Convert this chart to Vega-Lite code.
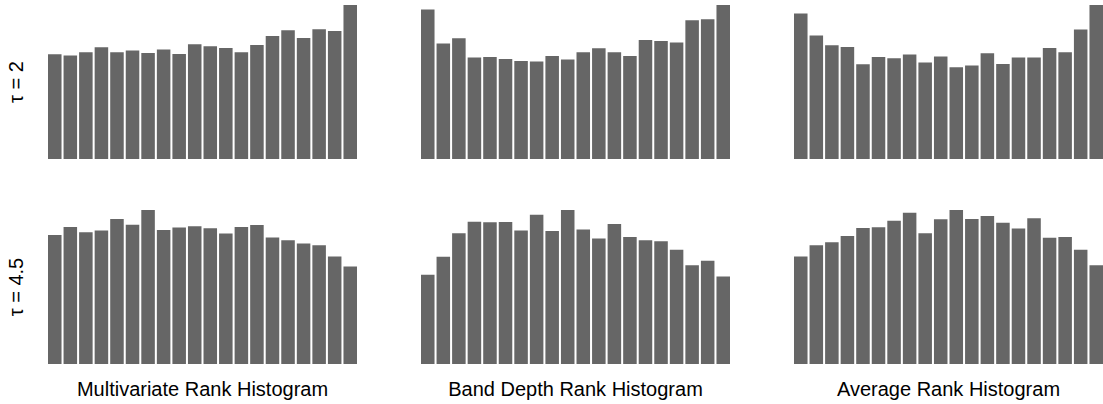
{
  "$schema": "https://vega.github.io/schema/vega-lite/v6.json",
  "padding": {"left": 6, "top": 5, "right": 0, "bottom": 0},
  "datasets": {
    "hist": [
      {"method": "Multivariate Rank Histogram", "tau": "τ = 2", "bin": 1, "freq": 104.7},
      {"method": "Multivariate Rank Histogram", "tau": "τ = 2", "bin": 2, "freq": 103.4},
      {"method": "Multivariate Rank Histogram", "tau": "τ = 2", "bin": 3, "freq": 106.7},
      {"method": "Multivariate Rank Histogram", "tau": "τ = 2", "bin": 4, "freq": 111.7},
      {"method": "Multivariate Rank Histogram", "tau": "τ = 2", "bin": 5, "freq": 106.7},
      {"method": "Multivariate Rank Histogram", "tau": "τ = 2", "bin": 6, "freq": 108.4},
      {"method": "Multivariate Rank Histogram", "tau": "τ = 2", "bin": 7, "freq": 106.0},
      {"method": "Multivariate Rank Histogram", "tau": "τ = 2", "bin": 8, "freq": 109.4},
      {"method": "Multivariate Rank Histogram", "tau": "τ = 2", "bin": 9, "freq": 105.0},
      {"method": "Multivariate Rank Histogram", "tau": "τ = 2", "bin": 10, "freq": 114.7},
      {"method": "Multivariate Rank Histogram", "tau": "τ = 2", "bin": 11, "freq": 112.7},
      {"method": "Multivariate Rank Histogram", "tau": "τ = 2", "bin": 12, "freq": 111.0},
      {"method": "Multivariate Rank Histogram", "tau": "τ = 2", "bin": 13, "freq": 106.7},
      {"method": "Multivariate Rank Histogram", "tau": "τ = 2", "bin": 14, "freq": 114.0},
      {"method": "Multivariate Rank Histogram", "tau": "τ = 2", "bin": 15, "freq": 123.0},
      {"method": "Multivariate Rank Histogram", "tau": "τ = 2", "bin": 16, "freq": 128.7},
      {"method": "Multivariate Rank Histogram", "tau": "τ = 2", "bin": 17, "freq": 121.0},
      {"method": "Multivariate Rank Histogram", "tau": "τ = 2", "bin": 18, "freq": 129.7},
      {"method": "Multivariate Rank Histogram", "tau": "τ = 2", "bin": 19, "freq": 128.0},
      {"method": "Multivariate Rank Histogram", "tau": "τ = 2", "bin": 20, "freq": 154.0},
      {"method": "Band Depth Rank Histogram", "tau": "τ = 2", "bin": 1, "freq": 149.4},
      {"method": "Band Depth Rank Histogram", "tau": "τ = 2", "bin": 2, "freq": 115.4},
      {"method": "Band Depth Rank Histogram", "tau": "τ = 2", "bin": 3, "freq": 120.7},
      {"method": "Band Depth Rank Histogram", "tau": "τ = 2", "bin": 4, "freq": 101.4},
      {"method": "Band Depth Rank Histogram", "tau": "τ = 2", "bin": 5, "freq": 102.0},
      {"method": "Band Depth Rank Histogram", "tau": "τ = 2", "bin": 6, "freq": 100.0},
      {"method": "Band Depth Rank Histogram", "tau": "τ = 2", "bin": 7, "freq": 98.0},
      {"method": "Band Depth Rank Histogram", "tau": "τ = 2", "bin": 8, "freq": 97.4},
      {"method": "Band Depth Rank Histogram", "tau": "τ = 2", "bin": 9, "freq": 103.0},
      {"method": "Band Depth Rank Histogram", "tau": "τ = 2", "bin": 10, "freq": 99.4},
      {"method": "Band Depth Rank Histogram", "tau": "τ = 2", "bin": 11, "freq": 106.7},
      {"method": "Band Depth Rank Histogram", "tau": "τ = 2", "bin": 12, "freq": 110.7},
      {"method": "Band Depth Rank Histogram", "tau": "τ = 2", "bin": 13, "freq": 106.7},
      {"method": "Band Depth Rank Histogram", "tau": "τ = 2", "bin": 14, "freq": 103.0},
      {"method": "Band Depth Rank Histogram", "tau": "τ = 2", "bin": 15, "freq": 119.0},
      {"method": "Band Depth Rank Histogram", "tau": "τ = 2", "bin": 16, "freq": 118.0},
      {"method": "Band Depth Rank Histogram", "tau": "τ = 2", "bin": 17, "freq": 116.4},
      {"method": "Band Depth Rank Histogram", "tau": "τ = 2", "bin": 18, "freq": 138.7},
      {"method": "Band Depth Rank Histogram", "tau": "τ = 2", "bin": 19, "freq": 139.7},
      {"method": "Band Depth Rank Histogram", "tau": "τ = 2", "bin": 20, "freq": 154.0},
      {"method": "Average Rank Histogram", "tau": "τ = 2", "bin": 1, "freq": 145.4},
      {"method": "Average Rank Histogram", "tau": "τ = 2", "bin": 2, "freq": 123.4},
      {"method": "Average Rank Histogram", "tau": "τ = 2", "bin": 3, "freq": 113.7},
      {"method": "Average Rank Histogram", "tau": "τ = 2", "bin": 4, "freq": 112.0},
      {"method": "Average Rank Histogram", "tau": "τ = 2", "bin": 5, "freq": 94.7},
      {"method": "Average Rank Histogram", "tau": "τ = 2", "bin": 6, "freq": 102.0},
      {"method": "Average Rank Histogram", "tau": "τ = 2", "bin": 7, "freq": 100.7},
      {"method": "Average Rank Histogram", "tau": "τ = 2", "bin": 8, "freq": 104.4},
      {"method": "Average Rank Histogram", "tau": "τ = 2", "bin": 9, "freq": 96.4},
      {"method": "Average Rank Histogram", "tau": "τ = 2", "bin": 10, "freq": 102.4},
      {"method": "Average Rank Histogram", "tau": "τ = 2", "bin": 11, "freq": 91.7},
      {"method": "Average Rank Histogram", "tau": "τ = 2", "bin": 12, "freq": 93.4},
      {"method": "Average Rank Histogram", "tau": "τ = 2", "bin": 13, "freq": 105.7},
      {"method": "Average Rank Histogram", "tau": "τ = 2", "bin": 14, "freq": 95.0},
      {"method": "Average Rank Histogram", "tau": "τ = 2", "bin": 15, "freq": 101.4},
      {"method": "Average Rank Histogram", "tau": "τ = 2", "bin": 16, "freq": 101.4},
      {"method": "Average Rank Histogram", "tau": "τ = 2", "bin": 17, "freq": 111.0},
      {"method": "Average Rank Histogram", "tau": "τ = 2", "bin": 18, "freq": 106.7},
      {"method": "Average Rank Histogram", "tau": "τ = 2", "bin": 19, "freq": 129.4},
      {"method": "Average Rank Histogram", "tau": "τ = 2", "bin": 20, "freq": 154.0},
      {"method": "Multivariate Rank Histogram", "tau": "τ = 4.5", "bin": 1, "freq": 129.7},
      {"method": "Multivariate Rank Histogram", "tau": "τ = 4.5", "bin": 2, "freq": 137.7},
      {"method": "Multivariate Rank Histogram", "tau": "τ = 4.5", "bin": 3, "freq": 132.3},
      {"method": "Multivariate Rank Histogram", "tau": "τ = 4.5", "bin": 4, "freq": 134.0},
      {"method": "Multivariate Rank Histogram", "tau": "τ = 4.5", "bin": 5, "freq": 145.7},
      {"method": "Multivariate Rank Histogram", "tau": "τ = 4.5", "bin": 6, "freq": 140.0},
      {"method": "Multivariate Rank Histogram", "tau": "τ = 4.5", "bin": 7, "freq": 154.7},
      {"method": "Multivariate Rank Histogram", "tau": "τ = 4.5", "bin": 8, "freq": 134.7},
      {"method": "Multivariate Rank Histogram", "tau": "τ = 4.5", "bin": 9, "freq": 137.0},
      {"method": "Multivariate Rank Histogram", "tau": "τ = 4.5", "bin": 10, "freq": 138.3},
      {"method": "Multivariate Rank Histogram", "tau": "τ = 4.5", "bin": 11, "freq": 136.3},
      {"method": "Multivariate Rank Histogram", "tau": "τ = 4.5", "bin": 12, "freq": 131.0},
      {"method": "Multivariate Rank Histogram", "tau": "τ = 4.5", "bin": 13, "freq": 137.7},
      {"method": "Multivariate Rank Histogram", "tau": "τ = 4.5", "bin": 14, "freq": 139.7},
      {"method": "Multivariate Rank Histogram", "tau": "τ = 4.5", "bin": 15, "freq": 127.0},
      {"method": "Multivariate Rank Histogram", "tau": "τ = 4.5", "bin": 16, "freq": 124.3},
      {"method": "Multivariate Rank Histogram", "tau": "τ = 4.5", "bin": 17, "freq": 121.0},
      {"method": "Multivariate Rank Histogram", "tau": "τ = 4.5", "bin": 18, "freq": 119.3},
      {"method": "Multivariate Rank Histogram", "tau": "τ = 4.5", "bin": 19, "freq": 108.0},
      {"method": "Multivariate Rank Histogram", "tau": "τ = 4.5", "bin": 20, "freq": 98.0},
      {"method": "Band Depth Rank Histogram", "tau": "τ = 4.5", "bin": 1, "freq": 89.7},
      {"method": "Band Depth Rank Histogram", "tau": "τ = 4.5", "bin": 2, "freq": 107.7},
      {"method": "Band Depth Rank Histogram", "tau": "τ = 4.5", "bin": 3, "freq": 131.3},
      {"method": "Band Depth Rank Histogram", "tau": "τ = 4.5", "bin": 4, "freq": 143.0},
      {"method": "Band Depth Rank Histogram", "tau": "τ = 4.5", "bin": 5, "freq": 142.3},
      {"method": "Band Depth Rank Histogram", "tau": "τ = 4.5", "bin": 6, "freq": 142.7},
      {"method": "Band Depth Rank Histogram", "tau": "τ = 4.5", "bin": 7, "freq": 134.0},
      {"method": "Band Depth Rank Histogram", "tau": "τ = 4.5", "bin": 8, "freq": 150.0},
      {"method": "Band Depth Rank Histogram", "tau": "τ = 4.5", "bin": 9, "freq": 133.7},
      {"method": "Band Depth Rank Histogram", "tau": "τ = 4.5", "bin": 10, "freq": 154.7},
      {"method": "Band Depth Rank Histogram", "tau": "τ = 4.5", "bin": 11, "freq": 135.0},
      {"method": "Band Depth Rank Histogram", "tau": "τ = 4.5", "bin": 12, "freq": 126.0},
      {"method": "Band Depth Rank Histogram", "tau": "τ = 4.5", "bin": 13, "freq": 140.7},
      {"method": "Band Depth Rank Histogram", "tau": "τ = 4.5", "bin": 14, "freq": 127.7},
      {"method": "Band Depth Rank Histogram", "tau": "τ = 4.5", "bin": 15, "freq": 124.3},
      {"method": "Band Depth Rank Histogram", "tau": "τ = 4.5", "bin": 16, "freq": 123.3},
      {"method": "Band Depth Rank Histogram", "tau": "τ = 4.5", "bin": 17, "freq": 114.7},
      {"method": "Band Depth Rank Histogram", "tau": "τ = 4.5", "bin": 18, "freq": 99.3},
      {"method": "Band Depth Rank Histogram", "tau": "τ = 4.5", "bin": 19, "freq": 103.7},
      {"method": "Band Depth Rank Histogram", "tau": "τ = 4.5", "bin": 20, "freq": 88.0},
      {"method": "Average Rank Histogram", "tau": "τ = 4.5", "bin": 1, "freq": 108.0},
      {"method": "Average Rank Histogram", "tau": "τ = 4.5", "bin": 2, "freq": 119.3},
      {"method": "Average Rank Histogram", "tau": "τ = 4.5", "bin": 3, "freq": 122.3},
      {"method": "Average Rank Histogram", "tau": "τ = 4.5", "bin": 4, "freq": 128.7},
      {"method": "Average Rank Histogram", "tau": "τ = 4.5", "bin": 5, "freq": 136.7},
      {"method": "Average Rank Histogram", "tau": "τ = 4.5", "bin": 6, "freq": 137.3},
      {"method": "Average Rank Histogram", "tau": "τ = 4.5", "bin": 7, "freq": 144.0},
      {"method": "Average Rank Histogram", "tau": "τ = 4.5", "bin": 8, "freq": 152.0},
      {"method": "Average Rank Histogram", "tau": "τ = 4.5", "bin": 9, "freq": 131.3},
      {"method": "Average Rank Histogram", "tau": "τ = 4.5", "bin": 10, "freq": 145.3},
      {"method": "Average Rank Histogram", "tau": "τ = 4.5", "bin": 11, "freq": 154.7},
      {"method": "Average Rank Histogram", "tau": "τ = 4.5", "bin": 12, "freq": 145.7},
      {"method": "Average Rank Histogram", "tau": "τ = 4.5", "bin": 13, "freq": 148.7},
      {"method": "Average Rank Histogram", "tau": "τ = 4.5", "bin": 14, "freq": 142.0},
      {"method": "Average Rank Histogram", "tau": "τ = 4.5", "bin": 15, "freq": 136.0},
      {"method": "Average Rank Histogram", "tau": "τ = 4.5", "bin": 16, "freq": 146.3},
      {"method": "Average Rank Histogram", "tau": "τ = 4.5", "bin": 17, "freq": 126.7},
      {"method": "Average Rank Histogram", "tau": "τ = 4.5", "bin": 18, "freq": 127.7},
      {"method": "Average Rank Histogram", "tau": "τ = 4.5", "bin": 19, "freq": 114.7},
      {"method": "Average Rank Histogram", "tau": "τ = 4.5", "bin": 20, "freq": 99.3}
    ]
  },
  "data": {"name": "hist"},
  "facet": {
    "row": {
      "field": "tau", "type": "nominal", "sort": ["τ = 2", "τ = 4.5"],
      "header": {"title": null, "labelOrient": "left", "labelAngle": -90, "labelFont": "Liberation Sans", "labelFontSize": 20, "labelColor": "#000000", "labelPadding": 11}
    },
    "column": {
      "field": "method", "type": "nominal",
      "sort": ["Multivariate Rank Histogram", "Band Depth Rank Histogram", "Average Rank Histogram"],
      "header": {"title": null, "labelOrient": "bottom", "labelFont": "Liberation Sans", "labelFontSize": 20, "labelColor": "#000000", "labelPadding": 16}
    }
  },
  "spacing": {"row": 51, "column": 64},
  "resolve": {"scale": {"y": "independent"}},
  "spec": {
    "width": 309,
    "height": 154,
    "mark": {"type": "bar", "color": "#666666"},
    "encoding": {
      "x": {"field": "bin", "type": "ordinal", "axis": null, "scale": {"paddingInner": 0.13, "paddingOuter": 0}},
      "y": {"field": "freq", "type": "quantitative", "axis": null, "scale": {"nice": false, "zero": true}}
    }
  },
  "config": {"view": {"stroke": null}}
}
